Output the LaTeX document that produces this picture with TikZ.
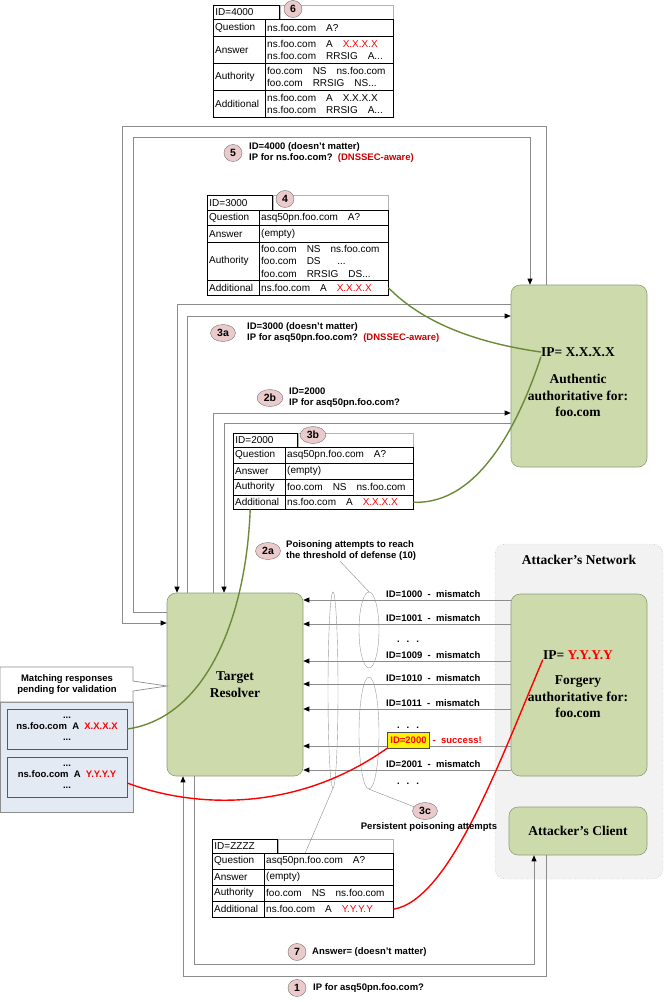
\documentclass[tikz,border=0pt]{standalone}
\usepackage{fontspec}
\setmainfont{Liberation Serif}
\setsansfont{Liberation Sans}
\usepackage{xcolor}
\usetikzlibrary{arrows.meta, positioning, shapes.geometric, calc}

\definecolor{boxgreen}{HTML}{CDDAAC}
\definecolor{boxedge}{HTML}{8C9C78}
\definecolor{netgray}{HTML}{F2F2F2}
\definecolor{pendblue}{HTML}{E4EAF4}
\definecolor{steppink}{HTML}{EACACA}
\definecolor{olivec}{HTML}{6B8A38}
\definecolor{dnsred}{HTML}{CC0000}
\definecolor{linegray}{HTML}{8C8C8C}

\newcommand{\rd}[1]{\textcolor{red}{#1}}
\newcommand{\tabcell}[6]{\pgfmathsetmacro{\cellw}{#4-4}\node[tcell, text width=\cellw pt, minimum height=#5] (#1) at (#2,#3) {#6};}

\tikzset{
  tcell/.style={draw, anchor=north west, inner xsep=2pt, inner ysep=0pt, align=left, font=\sffamily\fontsize{10}{12.5}\selectfont},
  idcell/.style={tcell, line width=0.9pt},
  hdrext/.style={draw=black!30, line width=0.5pt},
  tabframe/.style={line width=1pt},
  hostbox/.style={draw=boxedge, fill=boxgreen, rounded corners=9pt, line width=0.6pt},
  hosttext/.style={font=\rmfamily\bfseries\fontsize{13.5}{16.5}\selectfont, align=center, inner sep=0pt},
  stepnum/.style={ellipse, draw=black!55, fill=steppink, inner xsep=3pt, inner ysep=0pt, minimum width=18, minimum height=17, font=\sffamily\bfseries\fontsize{10.5}{12}\selectfont},
  lbl/.style={font=\sffamily\bfseries\fontsize{9.5}{11}\selectfont, align=left, inner sep=0pt},
  flow/.style={draw=linegray, line width=0.7pt, -{Triangle[length=6pt, width=5pt, color=black]}},
  link/.style={draw=linegray, line width=0.7pt},
  grp/.style={ellipse, draw=black!40, line width=0.4pt, inner sep=0pt},
  thinline/.style={draw=black!45, line width=0.4pt},
  proof/.style={line width=1.4pt, olivec},
  forged/.style={line width=1.4pt, red},
  pendrec/.style={lbl, draw=black!65, fill=pendblue, minimum width=120, minimum height=40, align=center},
}

\begin{document}
\begin{tikzpicture}[x=1pt, y=-1pt]
\useasboundingbox (0,0) rectangle (664,1002);

\draw[dotted, draw=black!50, fill=netgray, rounded corners=10pt] (495,544) rectangle (663,879);
\node[hosttext] (netlab) at (579,560) {Attacker's Network};

\node[hostbox, hosttext, minimum width=136, minimum height=183] (res) at (235,684.5) {Target\\Resolver};
\node[hostbox, minimum width=136, minimum height=182] (auth) at (579,376) {};
\node[hosttext] (authip) at (578,352) {IP= X.X.X.X};
\node[hosttext] (authtxt) at (578,395.5) {Authentic\\authoritative for:\\foo.com};
\node[hostbox, minimum width=136, minimum height=182] (forge) at (579,685) {};
\node[hosttext] (forgeip) at (578,655) {IP= \rd{Y.Y.Y.Y}};
\node[hosttext] (forgetxt) at (578,697) {Forgery\\authoritative for:\\foo.com};
\node[hostbox, hosttext, minimum width=138, minimum height=48] (client) at (578,831) {Attacker's Client};

\coordinate (k6a) at (546,126);
\coordinate (k6b) at (122,623);
\coordinate (k5a) at (133,612);
\coordinate (k5b) at (530,137);
\coordinate (k4) at (177,304);
\coordinate (k3a) at (187,316);
\coordinate (k2b) at (213,413);
\coordinate (k3b) at (224,423);
\coordinate (k1a) at (546,976);
\coordinate (k1b) at (183,976);
\coordinate (k7a) at (194,964);
\coordinate (k7b) at (534,964);

\draw[flow] (auth.north -| k6a) -- (k6a) -| (k6b) -- (res.west |- k6b);
\draw[flow] (res.west |- k5a) -- (k5a) |- (k5b) -- (auth.north -| k5b);
\draw[flow] (auth.west |- k4) -- (k4) -- (res.north -| k4);
\draw[flow] (res.north -| k3a) -- (k3a) -- (auth.west |- k3a);
\draw[flow] (res.north -| k2b) -- (k2b) -- (auth.west |- k2b);
\draw[flow] (auth.west |- k3b) -- (k3b) -- (res.north -| k3b);
\draw[flow] (client.south -| k1a) -- (k1a) -- (k1b) -- (res.south -| k1b);
\draw[flow] (res.south -| k7a) -- (k7a) -- (k7b) -- (client.south -| k7b);

\foreach \y/\t in {600/1000,624/1001,661/1009,684/1010,709/1011,770/2001} {
  \coordinate (m\t) at (0,\y);
  \draw[flow] (forge.west |- m\t) -- (res.east |- m\t);
  \node[lbl, anchor=base west] (lab\t) at (386,\y-2.5) {ID=\t\ \ -\ \ mismatch};
}
\coordinate (m2000) at (0,746);
\draw[flow] (forge.west |- m2000) -- (res.east |- m2000);
\node[lbl, fill=yellow, draw=black!70, inner xsep=3pt, minimum height=16, text=red] (hit) at (408.5,740) {ID=2000};
\node[lbl, text=red, anchor=west] (succ) at (hit.east) {\ -\ \ success!};
\node[lbl, anchor=base] (dots1) at (408,642) {.\hspace{7pt}.\hspace{7pt}.};
\node[lbl, anchor=base] (dots2) at (408,728) {.\hspace{7pt}.\hspace{7pt}.};
\node[lbl, anchor=base] (dots3) at (408,784) {.\hspace{7pt}.\hspace{7pt}.};

\node[grp, minimum width=10, minimum height=196] (e1) at (333,690) {};
\node[grp, minimum width=20, minimum height=76] (e2) at (369,630) {};
\node[grp, minimum width=20, minimum height=112] (e3) at (369,733) {};

\draw[link, fill=pendblue] (0,702) rectangle (133,812);
\draw[link, fill=white] (0,667) -- (133,667) -- (133,681) -- (167,686) -- (133,691) -- (133,702) -- (0,702) -- cycle;
\node[lbl, align=center] (pendhead) at (67,685) {Matching responses\\pending for validation};
\node[pendrec] (pend1) at (67,729) {...\\ns.foo.com\ \ A\ \ \rd{X.X.X.X}\\...};
\node[pendrec] (pend2) at (67,777) {...\\ns.foo.com\ \ A\ \ \rd{Y.Y.Y.Y}\\...};

\node[idcell, text width=62pt, minimum height=14] (t6id) at (213,5) {ID=4000};
\draw[hdrext] (t6id.north east) rectangle (393,19);
\tabcell{t6q}{213}{19}{52}{17}{Question}
\tabcell{t6qv}{265}{19}{128}{17}{ns.foo.com\quad A?}
\tabcell{t6a}{213}{36}{52}{27}{Answer}
\tabcell{t6av}{265}{36}{128}{27}{ns.foo.com\quad A\quad \rd{X.X.X.X}\\ns.foo.com\quad RRSIG\quad A...}
\tabcell{t6au}{213}{63}{52}{27}{Authority}
\tabcell{t6auv}{265}{63}{128}{27}{foo.com\quad NS\quad ns.foo.com\\foo.com\quad RRSIG\quad NS...}
\tabcell{t6ad}{213}{90}{52}{27}{Additional}
\tabcell{t6adv}{265}{90}{128}{27}{ns.foo.com\quad A\quad X.X.X.X\\ns.foo.com\quad RRSIG\quad A...}
\draw[tabframe] (t6q.north west) rectangle (t6adv.south east);

\node[idcell, text width=61pt, minimum height=15] (t4id) at (207,195) {ID=3000};
\draw[hdrext] (t4id.north east) rectangle (388,210);
\tabcell{t4q}{207}{210}{52}{15}{Question}
\tabcell{t4qv}{259}{210}{129}{15}{asq50pn.foo.com\quad A?}
\tabcell{t4a}{207}{225}{52}{17}{Answer}
\tabcell{t4av}{259}{225}{129}{17}{(empty)}
\tabcell{t4au}{207}{242}{52}{38}{Authority}
\tabcell{t4auv}{259}{242}{129}{38}{foo.com\quad NS\quad ns.foo.com\\foo.com\quad DS\quad\ \ ...\\foo.com\quad RRSIG\quad DS...}
\tabcell{t4ad}{207}{280}{52}{15}{Additional}
\tabcell{t4adv}{259}{280}{129}{15}{ns.foo.com\quad A\quad \rd{X.X.X.X}}
\draw[tabframe] (t4q.north west) rectangle (t4adv.south east);

\node[idcell, text width=60pt, minimum height=14] (t3bid) at (233,433) {ID=2000};
\draw[hdrext] (t3bid.north east) rectangle (413,447);
\tabcell{t3bq}{233}{447}{52}{16}{Question}
\tabcell{t3bqv}{285}{447}{128}{16}{asq50pn.foo.com\quad A?}
\tabcell{t3ba}{233}{463}{52}{16}{Answer}
\tabcell{t3bav}{285}{463}{128}{16}{(empty)}
\tabcell{t3bau}{233}{479}{52}{16}{Authority}
\tabcell{t3bauv}{285}{479}{128}{16}{foo.com\quad NS\quad ns.foo.com}
\tabcell{t3bad}{233}{495}{52}{14}{Additional}
\tabcell{t3badv}{285}{495}{128}{14}{ns.foo.com\quad A\quad \rd{X.X.X.X}}
\draw[tabframe] (t3bq.north west) rectangle (t3badv.south east);

\node[idcell, text width=61pt, minimum height=14] (tzid) at (212,839) {ID=ZZZZ};
\draw[hdrext] (tzid.north east) rectangle (393,853);
\tabcell{tzq}{212}{853}{52}{16}{Question}
\tabcell{tzqv}{264}{853}{129}{16}{asq50pn.foo.com\quad A?}
\tabcell{tza}{212}{869}{52}{16}{Answer}
\tabcell{tzav}{264}{869}{129}{16}{(empty)}
\tabcell{tzau}{212}{885}{52}{16}{Authority}
\tabcell{tzauv}{264}{885}{129}{16}{foo.com\quad NS\quad ns.foo.com}
\tabcell{tzad}{212}{901}{52}{16}{Additional}
\tabcell{tzadv}{264}{901}{129}{16}{ns.foo.com\quad A\quad \rd{Y.Y.Y.Y}}
\draw[tabframe] (tzq.north west) rectangle (tzadv.south east);

\draw[proof] (t4adv.east) .. controls (420,320) and (470,342) .. (authip.west);
\draw[proof] (authip.south west) .. controls (520,420) and (480,505) .. (t3badv.east);
\draw[proof] ([xshift=-9pt]t3bad.south) .. controls (246,620) and (205,718) .. (pend1.east);
\draw[forged] (forgeip.south west) .. controls (500,760) and (450,900) .. (tzadv.east);
\draw[forged] (hit.south west) .. controls (300,810) and (200,810) .. ([yshift=-6pt]pend2.east);

\node[stepnum] (s6) at (293,9) {6};
\node[stepnum] (s5) at (233,153) {5};
\node[stepnum] (s4) at (285,199) {4};
\node[stepnum] (s3a) at (223,333) {3a};
\node[stepnum] (s2b) at (270,398) {2b};
\node[stepnum] (s3b) at (313,435) {3b};
\node[stepnum] (s2a) at (268,551) {2a};
\node[stepnum] (s3c) at (425,811) {3c};
\node[stepnum] (s7) at (297,952) {7};
\node[stepnum] (s1) at (297,988) {1};

\node[lbl, anchor=west] (lab5) at (249,153) {ID=4000 (doesn't matter)\\IP for ns.foo.com?\ \ \textcolor{dnsred}{(DNSSEC-aware)}};
\node[lbl, anchor=west] (lab3a) at (247,333) {ID=3000 (doesn't matter)\\IP for asq50pn.foo.com?\ \ \textcolor{dnsred}{(DNSSEC-aware)}};
\node[lbl, anchor=west] (lab2b) at (289,398) {ID=2000\\IP for asq50pn.foo.com?};
\node[lbl, anchor=west] (poison) at (286,551) {Poisoning attempts to reach\\the threshold of defense (10)};
\node[lbl] (persist) at (429,827) {Persistent poisoning attempts};
\node[lbl, anchor=west] (lab7) at (312,952) {Answer= (doesn't matter)};
\node[lbl, anchor=west] (lab1) at (313,988) {IP for asq50pn.foo.com?};

\draw[thinline] ([xshift=54pt]poison.south west) -- (e2.north);
\draw[thinline] (e3.south) -- (s3c);
\draw[thinline] ([xshift=-23.5pt]tzqv.north) -- (e1.south);
\end{tikzpicture}
\end{document}
